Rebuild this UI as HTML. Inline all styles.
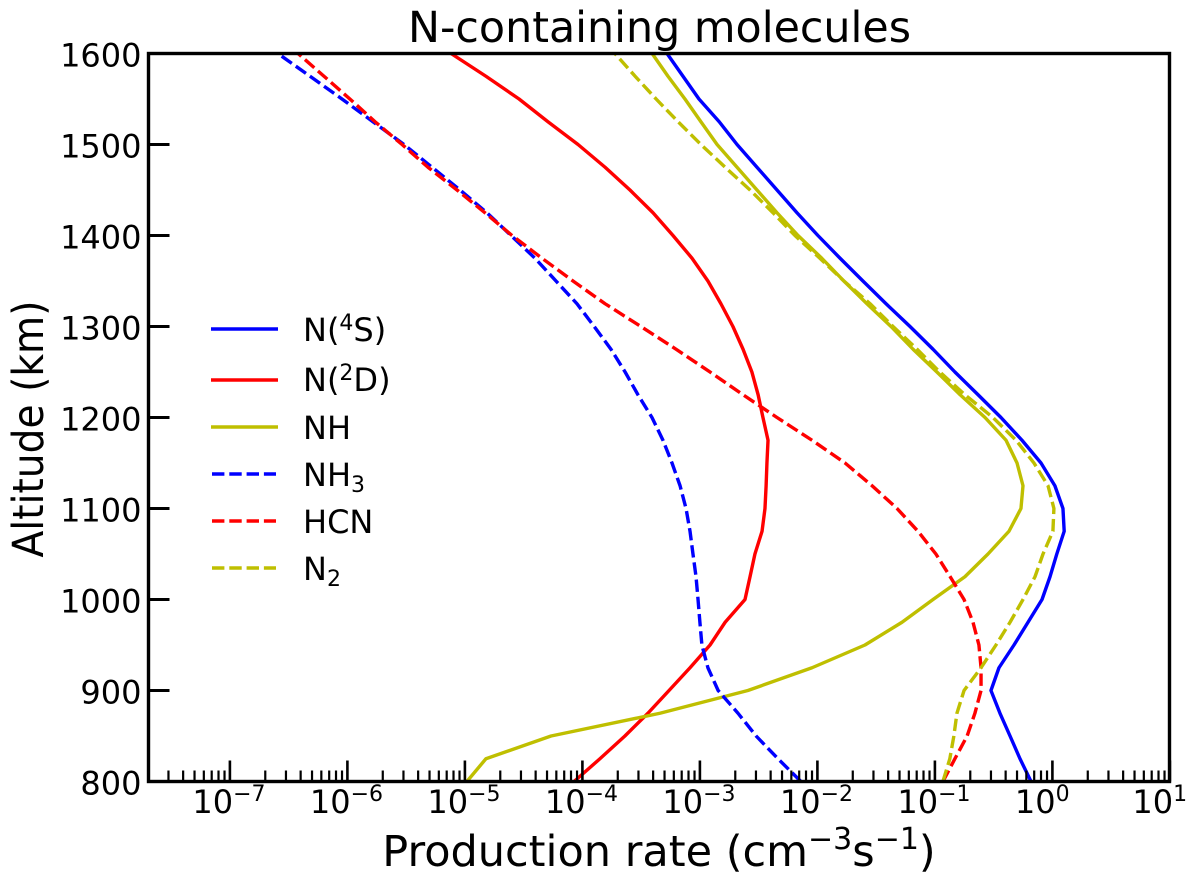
<!DOCTYPE html>
<html lang="en">
<head>
<meta charset="utf-8">
<title>N-containing molecules</title>
<style>
html,body{margin:0;padding:0;background:#fff;}
svg{display:block;font-family:"DejaVu Sans","Liberation Sans",sans-serif;fill:#000;}
</style>
</head>
<body>
<svg id="chart" xmlns="http://www.w3.org/2000/svg" width="1200" height="879" viewBox="0 0 1200 879">
  <defs>
    <clipPath id="plot-clip"><rect x="148.5" y="53.5" width="1021" height="728"></rect></clipPath>
  </defs>
  <rect x="0" y="0" width="1200" height="879" fill="#fff"></rect>
  <text x="659.5" y="42" font-size="43" text-anchor="middle" textLength="503" lengthAdjust="spacingAndGlyphs">N-containing molecules</text>
  <g id="series-layer" clip-path="url(#plot-clip)"></g>
  <g id="tick-layer"></g>
  <rect x="148.5" y="53.5" width="1021" height="728" fill="none" stroke="#000" stroke-width="3.4"></rect>
  <text transform="translate(43,429) rotate(-90)" font-size="43" text-anchor="middle" textLength="257" lengthAdjust="spacingAndGlyphs">Altitude (km)</text>
  <text x="659" y="866" font-size="43" text-anchor="middle">Production rate (cm<tspan font-size="30" dy="-17">−3</tspan><tspan dy="17">s</tspan><tspan font-size="30" dy="-17">−1</tspan><tspan dy="17">)</tspan></text>
  <g font-size="32">
    <text x="303" y="341">N(<tspan font-size="22" dy="-11">4</tspan><tspan dy="11">S)</tspan></text>
    <text x="303" y="391">N(<tspan font-size="22" dy="-11">2</tspan><tspan dy="11">D)</tspan></text>
    <text x="303" y="439">NH</text>
    <text x="303" y="486">NH<tspan font-size="22" dy="6">3</tspan></text>
    <text x="303" y="533">HCN</text>
    <text x="303" y="580">N<tspan font-size="22" dy="6">2</tspan></text>
    <line x1="211" x2="278" y1="329" y2="329" stroke="#0000ff" stroke-width="3.4"></line>
    <line x1="211" x2="278" y1="380" y2="380" stroke="#ff0000" stroke-width="3.4"></line>
    <line x1="211" x2="278" y1="427" y2="427" stroke="#bfbf00" stroke-width="3.4"></line>
    <line x1="212" x2="276" y1="474" y2="474" stroke="#0000ff" stroke-width="3.4" stroke-dasharray="12.4 4.9"></line>
    <line x1="212" x2="276" y1="521" y2="521" stroke="#ff0000" stroke-width="3.4" stroke-dasharray="12.4 4.9"></line>
    <line x1="212" x2="276" y1="568" y2="568" stroke="#bfbf00" stroke-width="3.4" stroke-dasharray="12.4 4.9"></line>
  </g>
</svg>
<script>
const altitudes = [800,825,850,875,900,925,950,975,1000,1025,1050,1075,1100,1125,1150,1175,1200,1225,1250,1275,1300,1325,1350,1375,1400,1425,1450,1475,1500,1525,1550,1575,1600];
const n4s = [0.658,0.530,0.436,0.358,0.300,0.351,0.471,0.620,0.816,0.954,1.09,1.26,1.23,1.05,0.80,0.551,0.365,0.233,0.148,0.0964,0.0614,0.0384,0.0244,0.0156,0.0101,0.00670,0.00453,0.00306,0.00207,0.00146,9.82e-4,7.18e-4,5.25e-4];
const n2d = [8.49e-5,1.41e-4,2.30e-4,3.61e-4,5.46e-4,8.24e-4,1.22e-3,1.64e-3,2.42e-3,2.67e-3,2.94e-3,3.38e-3,3.58e-3,3.66e-3,3.72e-3,3.80e-3,3.44e-3,3.13e-3,2.77e-3,2.33e-3,1.91e-3,1.51e-3,1.17e-3,8.57e-4,5.90e-4,3.99e-4,2.54e-4,1.56e-4,9.18e-5,5.09e-5,2.89e-5,1.51e-5,7.62e-6];
const nh = [1.04e-5,1.51e-5,5.41e-5,4.57e-4,2.56e-3,9.0e-3,2.54e-2,5.25e-2,9.64e-2,0.180,0.283,0.427,0.540,0.562,0.500,0.403,0.267,0.164,0.104,0.0652,0.0423,0.0264,0.0168,0.0109,0.00684,0.00453,0.00306,0.00207,0.00140,0.00102,7.46e-4,5.35e-4,3.92e-4];
const nh3 = [7.24e-3,4.62e-3,3.01e-3,2.11e-3,1.43e-3,1.17e-3,1.04e-3,1.0e-3,9.64e-4,9.27e-4,8.73e-4,8.24e-4,7.62e-4,6.78e-4,5.79e-4,4.85e-4,3.91e-4,2.97e-4,2.31e-4,1.75e-4,1.26e-4,8.99e-5,5.96e-5,3.95e-5,2.47e-5,1.54e-5,9.08e-6,5.25e-6,3.03e-6,1.65e-6,8.99e-7,4.81e-7,2.56e-7];
const hcn = [0.117,0.148,0.188,0.219,0.247,0.247,0.237,0.211,0.177,0.135,0.102,0.0718,0.0476,0.0292,0.0172,0.00900,0.00453,0.00233,0.00122,6.27e-4,3.15e-4,1.56e-4,8.32e-5,4.53e-5,2.52e-5,1.48e-5,8.57e-6,4.85e-6,2.92e-6,1.72e-6,1.05e-6,6.32e-7,3.80e-7];
const n2 = [0.117,0.134,0.145,0.154,0.177,0.247,0.331,0.436,0.562,0.711,0.832,1.01,1.03,0.918,0.697,0.490,0.312,0.180,0.110,0.0705,0.0440,0.0281,0.0168,0.0105,0.00644,0.00419,0.00267,0.00164,0.00102,6.52e-4,4.24e-4,2.81e-4,1.89e-4];
const xTickExponents = [-7,-6,-5,-4,-3,-2,-1,0,1];
const yTickLabels = [800,900,1000,1100,1200,1300,1400,1500,1600];

const SVG_NS = 'http://www.w3.org/2000/svg';
const plotLeft = 148.5, plotBottom = 781.5, plotTop = 53.5, plotRight = 1169.5;
const decadeWidth = 117.5, zeroX = 1052.4;
function xScale(v){ return zeroX + Math.log10(v) * decadeWidth; }
function yScale(a){ return plotBottom - (a - 800) / 800 * (plotBottom - plotTop); }
function make(tag, attrs, parent){
  const el = document.createElementNS(SVG_NS, tag);
  for (const k in attrs) el.setAttribute(k, attrs[k]);
  parent.appendChild(el);
  return el;
}
const seriesLayer = document.getElementById('series-layer');
const tickLayer = document.getElementById('tick-layer');

function drawSeries(values, color, dashed, name){
  const d = values.map((v, i) => (i ? 'L' : 'M') + xScale(v).toFixed(2) + ' ' + yScale(altitudes[i]).toFixed(2)).join(' ');
  const attrs = {d: d, fill: 'none', stroke: color, 'stroke-width': 3.4, 'stroke-linejoin': 'round'};
  if (dashed) attrs['stroke-dasharray'] = '12.4 4.9';
  const el = make('path', attrs, seriesLayer);
  
  
}
drawSeries(n4s, '#0000ff', false, 'series-n4s');
drawSeries(n2d, '#ff0000', false, 'series-n2d');
drawSeries(nh, '#bfbf00', false, 'series-nh');
drawSeries(nh3, '#0000ff', true, 'series-nh3');
drawSeries(hcn, '#ff0000', true, 'series-hcn');
drawSeries(n2, '#bfbf00', true, 'series-n2');

yTickLabels.forEach(function(a){
  const y = yScale(a);
  const t = make('line', {x1: plotLeft, x2: plotLeft + 21, y1: y, y2: y, stroke: '#000', 'stroke-width': 3}, tickLayer);
  
  
  const l = make('text', {x: 141.5, y: y + 13, 'font-size': 32, 'text-anchor': 'end'}, tickLayer);
  
  
  l.textContent = String(a);
});

xTickExponents.forEach(function(e){
  const x = xScale(Math.pow(10, e));
  const t = make('line', {x1: x, x2: x, y1: plotBottom, y2: plotBottom - 21, stroke: '#000', 'stroke-width': 2.6}, tickLayer);
  
  
  const l = make('text', {x: x - 37.5, y: 813, 'font-size': 32}, tickLayer);
  
  
  l.textContent = '10';
  const sup = make('tspan', {'font-size': 22, dy: -12}, l);
  sup.textContent = String(e).replace('-', '−');
});

for (let e = -8; e <= 0; e++){
  for (let m = 2; m <= 9; m++){
    const x = xScale(m * Math.pow(10, e));
    if (x <= plotLeft + 2 || x >= plotRight) continue;
    const t = make('line', {x1: x, x2: x, y1: plotBottom, y2: plotBottom - 11, stroke: '#000', 'stroke-width': 2.2}, tickLayer);
    
    
  }
}
</script>
</body>
</html>
